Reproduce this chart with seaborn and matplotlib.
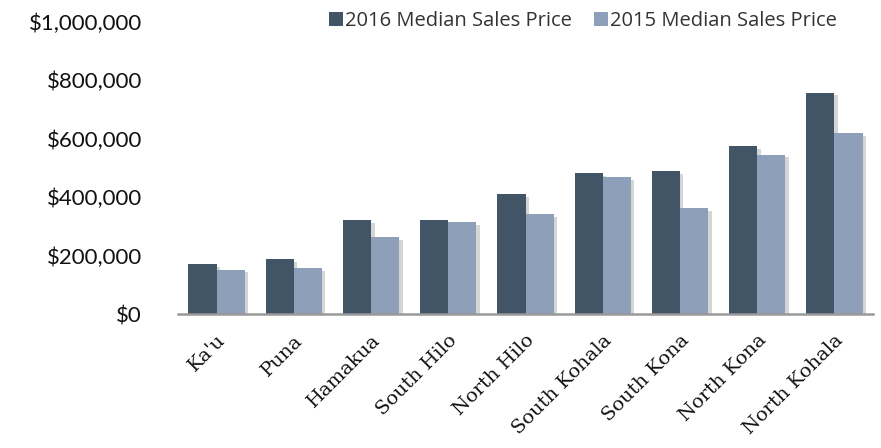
import matplotlib
matplotlib.use("Agg")
import matplotlib.pyplot as plt
import matplotlib.patheffects as pe
import matplotlib.transforms as mtransforms
from matplotlib.patches import Patch
import seaborn as sns
import pandas as pd

regions = ["Ka'u", "Puna", "Hamakua", "South Hilo", "North Hilo",
           "South Kohala", "South Kona", "North Kona", "North Kohala"]
price_2016 = [171000, 188000, 321000, 321000, 410000, 482000, 489000, 576000, 758000]
price_2015 = [152000, 157000, 263000, 314000, 341000, 470000, 364000, 546000, 620000]
series = ["2016 Median Sales Price", "2015 Median Sales Price"]
colors = ["#425566", "#8E9FBA"]
yticks = [0, 200000, 400000, 600000, 800000, 1000000]
ytick_labels = ["$0", "$200,000", "$400,000", "$600,000", "$800,000", "$1,000,000"]

df = pd.DataFrame({
    "Region": regions * 2,
    "Price": price_2016 + price_2015,
    "Series": [series[0]] * len(regions) + [series[1]] * len(regions),
})

sns.set_theme(style="white")
plt.rcParams["font.family"] = ["Lato", "DejaVu Sans"]

fig = plt.figure(figsize=(8.81, 4.48), dpi=100)
ax = fig.add_axes([0.202, 0.299, 0.789, 0.652])

sns.barplot(data=df, x="Region", y="Price", hue="Series", order=regions,
            hue_order=series, palette=colors, width=0.73, saturation=1,
            ax=ax, legend=False, linewidth=0)

for p in ax.patches:
    p.set_path_effects([pe.SimplePatchShadow(offset=(2.5, -2), shadow_rgbFace="#888888", alpha=0.35),
                        pe.Normal()])

ax.set_ylim(0, 1000000)
ax.set_xlim(-0.5, len(regions) - 0.5)
ax.set_yticks(yticks)
ax.set_yticklabels(ytick_labels, fontsize=16, color="#111111")
ax.tick_params(axis="y", length=0, pad=26)
ax.tick_params(axis="x", length=0, pad=17)
ax.set_xticks(range(len(regions)))
ax.set_xticklabels(regions, rotation=45, ha="right", va="center", rotation_mode="anchor",
                   fontsize=14, family="DejaVu Serif", color="#111111")
offset = mtransforms.ScaledTranslation(6 / 100, 0, fig.dpi_scale_trans)
for lbl in ax.get_xticklabels():
    lbl.set_transform(lbl.get_transform() + offset)
ax.set_xlabel("")
ax.set_ylabel("")
for s in ["top", "right", "left"]:
    ax.spines[s].set_visible(False)
ax.spines["bottom"].set_color("#999999")
ax.spines["bottom"].set_linewidth(1.8)

handles = [Patch(facecolor=c, edgecolor="none") for c in colors]
fig.legend(handles, series, loc="upper center", bbox_to_anchor=(0.662, 1.015),
           ncol=2, frameon=False, handlelength=0.7, handleheight=0.7,
           handletextpad=0.1, columnspacing=1.1,
           prop={"family": "Open Sans", "size": 14.5},
           labelcolor="#333333")

fig.savefig("out.png", dpi=100)
